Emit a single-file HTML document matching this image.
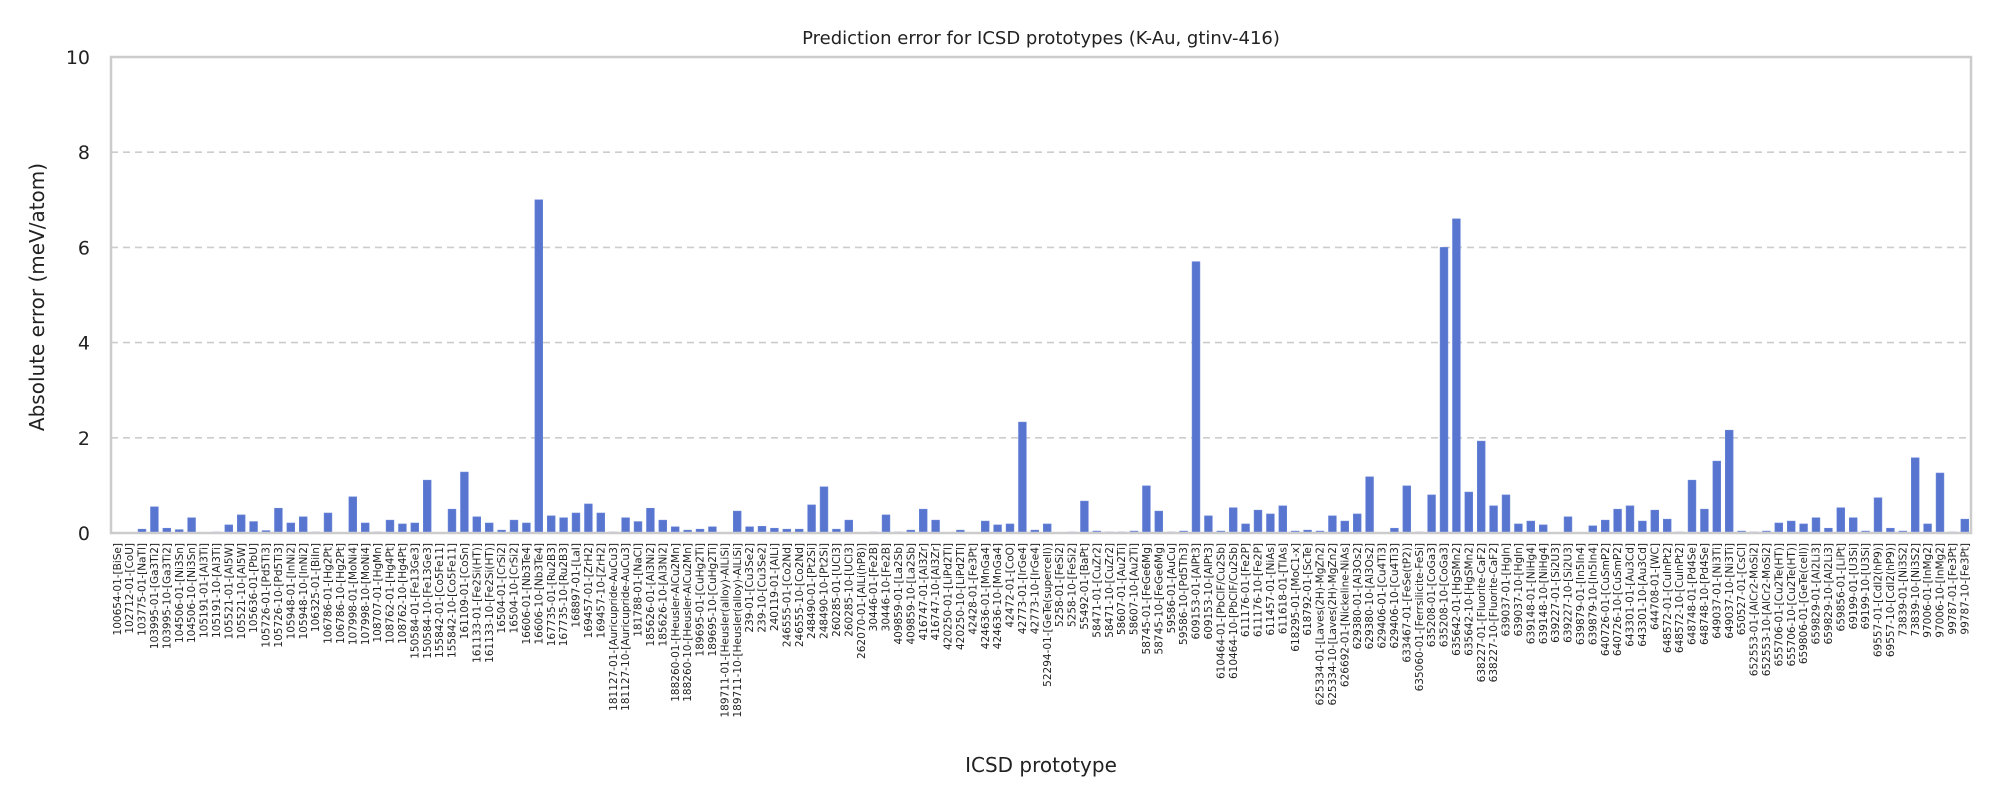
<!DOCTYPE html>
<html><head><meta charset="utf-8"><style>
html,body{margin:0;padding:0;background:#fff;}
svg{display:block;font-family:"DejaVu Sans","Liberation Sans",sans-serif;}
</style></head><body>
<svg id="chart" width="2000" height="800" viewBox="0 0 2000 800" xmlns="http://www.w3.org/2000/svg">
<rect x="0" y="0" width="2000" height="800" fill="#fff"/>
<text x="1041" y="44" font-size="18" text-anchor="middle" fill="#222">Prediction error for ICSD prototypes (K-Au, gtinv-416)</text>
<text x="1041" y="772" font-size="20" text-anchor="middle" fill="#222">ICSD prototype</text>
<text transform="translate(44,297) rotate(-90)" font-size="20" text-anchor="middle" fill="#222">Absolute error (meV/atom)</text>
<g id="grid"></g><g id="bars"></g><g id="yticks"></g><g id="xticks"></g>
<rect x="111" y="57" width="1860" height="476" fill="none" stroke="#cccccc" stroke-width="2.5"/>
</svg>
<script>
const categories = ["100654-01-[BiSe]","102712-01-[CoU]","103775-01-[NaTl]","103995-01-[Ga3Ti2]","103995-10-[Ga3Ti2]","104506-01-[Ni3Sn]","104506-10-[Ni3Sn]","105191-01-[Al3Ti]","105191-10-[Al3Ti]","105521-01-[Al5W]","105521-10-[Al5W]","105636-01-[PbU]","105726-01-[Pd5Ti3]","105726-10-[Pd5Ti3]","105948-01-[InNi2]","105948-10-[InNi2]","106325-01-[BiIn]","106786-01-[Hg2Pt]","106786-10-[Hg2Pt]","107998-01-[MoNi4]","107998-10-[MoNi4]","108707-01-[HgMn]","108762-01-[Hg4Pt]","108762-10-[Hg4Pt]","150584-01-[Fe13Ge3]","150584-10-[Fe13Ge3]","155842-01-[Co5Fe11]","155842-10-[Co5Fe11]","161109-01-[CoSn]","161133-01-[Fe2Si(HT)]","161133-10-[Fe2Si(HT)]","16504-01-[CrSi2]","16504-10-[CrSi2]","16606-01-[Nb3Te4]","16606-10-[Nb3Te4]","167735-01-[Ru2B3]","167735-10-[Ru2B3]","168897-01-[LaI]","169457-01-[ZrH2]","169457-10-[ZrH2]","181127-01-[Auricupride-AuCu3]","181127-10-[Auricupride-AuCu3]","181788-01-[NaCl]","185626-01-[Al3Ni2]","185626-10-[Al3Ni2]","188260-01-[Heusler-AlCu2Mn]","188260-10-[Heusler-AlCu2Mn]","189695-01-[CuHg2Ti]","189695-10-[CuHg2Ti]","189711-01-[Heusler(alloy)-AlLiSi]","189711-10-[Heusler(alloy)-AlLiSi]","239-01-[Cu3Se2]","239-10-[Cu3Se2]","240119-01-[AlLi]","246555-01-[Co2Nd]","246555-10-[Co2Nd]","248490-01-[Pt2Si]","248490-10-[Pt2Si]","260285-01-[UCl3]","260285-10-[UCl3]","262070-01-[AlLi(hP8)]","30446-01-[Fe2B]","30446-10-[Fe2B]","409859-01-[La2Sb]","409859-10-[La2Sb]","416747-01-[Al3Zr]","416747-10-[Al3Zr]","420250-01-[LiPd2Tl]","420250-10-[LiPd2Tl]","42428-01-[Fe3Pt]","424636-01-[MnGa4]","424636-10-[MnGa4]","42472-01-[CoO]","42773-01-[IrGe4]","42773-10-[IrGe4]","52294-01-[GeTe(supercell)]","5258-01-[FeSi2]","5258-10-[FeSi2]","55492-01-[BaPt]","58471-01-[CuZr2]","58471-10-[CuZr2]","58607-01-[Au2Ti]","58607-10-[Au2Ti]","58745-01-[FeGe6Mg]","58745-10-[FeGe6Mg]","59586-01-[AuCu]","59586-10-[Pd5Th3]","609153-01-[AlPt3]","609153-10-[AlPt3]","610464-01-[PbClF/Cu2Sb]","610464-10-[PbClF/Cu2Sb]","611176-01-[Fe2P]","611176-10-[Fe2P]","611457-01-[NiAs]","611618-01-[TlAs]","618295-01-[MoC1-x]","618792-01-[ScTe]","625334-01-[Laves(2H)-MgZn2]","625334-10-[Laves(2H)-MgZn2]","626692-01-[Nickeline-NiAs]","629380-01-[Al3Os2]","629380-10-[Al3Os2]","629406-01-[Cu4Ti3]","629406-10-[Cu4Ti3]","633467-01-[FeSe(tP2)]","635060-01-[Ferrsilicite-FeSi]","635208-01-[CoGa3]","635208-10-[CoGa3]","635642-01-[HgSMn2]","635642-10-[HgSMn2]","638227-01-[Fluorite-CaF2]","638227-10-[Fluorite-CaF2]","639037-01-[HgIn]","639037-10-[HgIn]","639148-01-[NiHg4]","639148-10-[NiHg4]","639227-01-[Si2U3]","639227-10-[Si2U3]","639879-01-[In5In4]","639879-10-[In5In4]","640726-01-[CuSmP2]","640726-10-[CuSmP2]","643301-01-[Au3Cd]","643301-10-[Au3Cd]","644708-01-[WC]","648572-01-[CuInPt2]","648572-10-[CuInPt2]","648748-01-[Pd4Se]","648748-10-[Pd4Se]","649037-01-[Ni3Ti]","649037-10-[Ni3Ti]","650527-01-[CsCl]","652553-01-[AlCr2-MoSi2]","652553-10-[AlCr2-MoSi2]","655706-01-[Cu2Te(HT)]","655706-10-[Cu2Te(HT)]","659806-01-[GeTe(cell)]","659829-01-[Al2Li3]","659829-10-[Al2Li3]","659856-01-[LiPt]","69199-01-[U3Si]","69199-10-[U3Si]","69557-01-[CdI2(hP9)]","69557-10-[CdI2(hP9)]","73839-01-[Ni3S2]","73839-10-[Ni3S2]","97006-01-[InMg2]","97006-10-[InMg2]","99787-01-[Fe3Pt]","99787-10-[Fe3Pt]"];
const errors = [0,0,0.08,0.55,0.1,0.07,0.32,0,0.02,0.17,0.38,0.24,0.05,0.52,0.21,0.34,0.02,0.42,0,0.76,0.21,0.02,0.27,0.19,0.21,1.11,0,0.5,1.28,0.34,0.21,0.06,0.27,0.21,7.0,0.36,0.32,0.42,0.61,0.42,0.02,0.32,0.24,0.52,0.27,0.13,0.06,0.08,0.13,0,0.46,0.13,0.14,0.1,0.08,0.08,0.59,0.97,0.08,0.27,0,0.02,0.38,0.02,0.06,0.5,0.27,0,0.06,0,0.25,0.17,0.19,2.33,0.06,0.19,0,0.02,0.67,0.04,0.02,0.02,0.04,0.99,0.46,0.02,0.04,5.7,0.36,0.04,0.53,0.19,0.48,0.4,0.57,0.04,0.06,0.04,0.36,0.25,0.4,1.18,0,0.1,0.99,0.02,0.8,6.0,6.6,0.86,1.93,0.57,0.8,0.19,0.25,0.17,0,0.34,0,0.15,0.27,0.5,0.57,0.25,0.48,0.29,0.02,1.11,0.5,1.51,2.16,0.04,0.02,0.04,0.21,0.25,0.19,0.32,0.1,0.53,0.32,0.04,0.74,0.1,0.04,1.58,0.19,1.26,0.02,0.29];
const yTicks = [0,2,4,6,8,10];

const NS = "http://www.w3.org/2000/svg";
const X0 = 111, X1 = 1971, Y0 = 533, Y1 = 57, YMAX = 10;
const step = (X1 - X0) / categories.length;
function xScale(i){ return X0 + (i + 0.5) * step; }
function yScale(v){ return Y0 - (v / YMAX) * (Y0 - Y1); }
function mk(tag, attrs){ const e = document.createElementNS(NS, tag); for (const k in attrs) e.setAttribute(k, attrs[k]); return e; }

const grid = document.getElementById('grid');
const yt = document.getElementById('yticks');
yTicks.forEach(function(t){
  const y = yScale(t);
  if (t > 0 && t < YMAX) {
    const l = mk('line', {x1: X0, x2: X1, y1: y, y2: y, stroke: '#cccccc', 'stroke-width': 1.6, 'stroke-dasharray': '7,5'});
    
    
    grid.appendChild(l);
  }
  const tx = mk('text', {x: 90, y: y + 7, 'font-size': 19, 'text-anchor': 'end', fill: '#222'});
  tx.textContent = t;
  
  
  yt.appendChild(tx);
});

const bars = document.getElementById('bars');
const xt = document.getElementById('xticks');
const bw = 7.8;
errors.forEach(function(v, i){
  const cx = xScale(i);
  const y = yScale(v);
  const r = mk('rect', {x: cx - bw/2, y: y, width: bw, height: Math.max(0, Y0 - y), fill: '#5875d0', stroke: '#6a86d8', 'stroke-width': 0.6});
  
  
  bars.appendChild(r);
});
categories.forEach(function(c, i){
  const cx = xScale(i);
  const tx = mk('text', {transform: 'translate(' + (cx + 3.6) + ',543) rotate(-90)', 'font-size': 10.5, 'text-anchor': 'end', fill: '#222'});
  tx.textContent = c;
  
  
  xt.appendChild(tx);
});
</script>
</body></html>
